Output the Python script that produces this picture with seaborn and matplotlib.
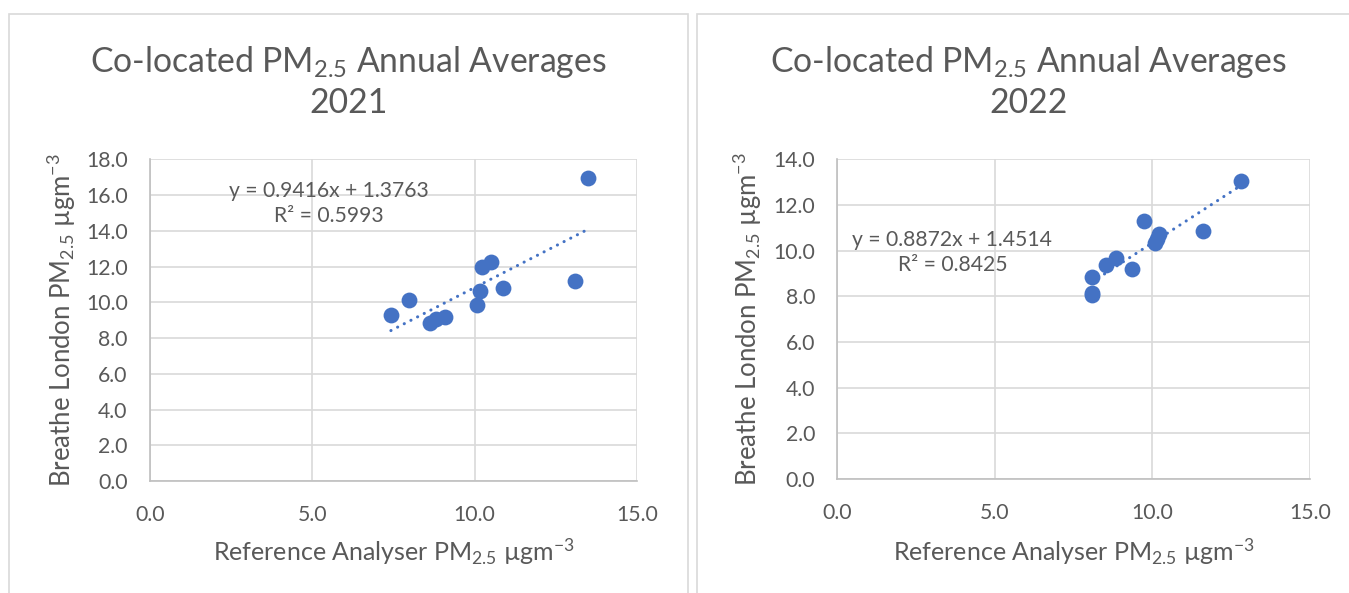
import matplotlib
matplotlib.use("Agg")
import matplotlib.pyplot as plt
import seaborn as sns
import numpy as np
from matplotlib.patches import Rectangle
from matplotlib.ticker import FormatStrFormatter, MultipleLocator

# ---- data ----
ref_2021 = [7.42, 7.99, 8.63, 8.80, 9.08, 10.06, 10.15, 10.23, 10.50, 10.88, 13.08, 13.48]
bl_2021 = [9.27, 10.14, 8.85, 9.08, 9.15, 9.83, 10.65, 12.00, 12.25, 10.82, 11.18, 16.96]
ref_2022 = [8.08, 8.08, 8.08, 8.52, 8.85, 9.35, 9.74, 10.07, 10.15, 10.20, 11.59, 12.80]
bl_2022 = [8.05, 8.15, 8.84, 9.35, 9.67, 9.20, 11.28, 10.33, 10.50, 10.75, 10.88, 13.07]
years = ["2021", "2022"]
equations = ["y = 0.9416x + 1.3763\nR² = 0.5993", "y = 0.8872x + 1.4514\nR² = 0.8425"]
y_max = [18.0, 14.0]
x_ticks = [0.0, 5.0, 10.0, 15.0]

sns.set_theme(style="white")
plt.rcParams["font.family"] = ["Lato", "DejaVu Sans"]
plt.rcParams["mathtext.default"] = "regular"

TXT = "#595959"
GRID = "#D9D9D9"
AXL = "#BFBFBF"
BLUE = "#4472C4"

fig = plt.figure(figsize=(13.49, 5.93), dpi=100)
fig.patch.set_facecolor("white")

W, H = 1349, 593
# panel borders
fig.patches.append(Rectangle((9 / W, -0.05), (688 - 9) / W, 1.05 - 14 / H,
                             transform=fig.transFigure, fill=False, edgecolor=GRID, lw=1.2))
fig.patches.append(Rectangle((697 / W, -0.05), 0.5, 1.05 - 14 / H,
                             transform=fig.transFigure, fill=False, edgecolor=GRID, lw=1.2))

axes_px = [(150, 637, 159.3, 481), (837.3, 1310, 159.3, 479)]
title_cx = [348.5, 1028.5]
ylab_cx = [62, 748]
eq_pos = [(5.50, 15.53), (3.65, 9.91)]
data = [(ref_2021, bl_2021), (ref_2022, bl_2022)]

for i in range(2):
    x0, x1, yt, yb = axes_px[i]
    ax = fig.add_axes([x0 / W, (H - yb) / H, (x1 - x0) / W, (yb - yt) / H])
    xs, ys = data[i]
    sns.regplot(x=xs, y=ys, ax=ax, scatter=False, ci=None, truncate=True,
                line_kws=dict(color=BLUE, lw=2.2, ls=(0, (0.05, 2.4)),
                              dash_capstyle="round", zorder=2))
    sns.scatterplot(x=xs, y=ys, ax=ax, s=130, color=BLUE, edgecolor=BLUE,
                    linewidth=0, zorder=3)
    ax.set_xlim(0, 15)
    ax.set_ylim(0, y_max[i])
    ax.set_xticks(x_ticks)
    ax.yaxis.set_major_locator(MultipleLocator(2))
    ax.xaxis.set_major_formatter(FormatStrFormatter("%.1f"))
    ax.yaxis.set_major_formatter(FormatStrFormatter("%.1f"))
    ax.grid(True, color=GRID, lw=1.2)
    ax.set_axisbelow(True)
    for s in ["top", "right"]:
        ax.spines[s].set_visible(False)
    for s in ["left", "bottom"]:
        ax.spines[s].set_color(AXL)
        ax.spines[s].set_linewidth(1.2)
    ax.tick_params(axis="both", length=0, labelsize=15.3, labelcolor=TXT)
    ax.tick_params(axis="x", pad=17)
    ax.tick_params(axis="y", pad=16)
    ax.set_xlabel("")
    ax.set_ylabel("")
    ex, ey = eq_pos[i]
    ax.text(ex, ey, equations[i], ha="center", va="center", multialignment="center",
            fontsize=15.2, color=TXT, linespacing=1.35, zorder=4)
    # axis titles
    fig.text(((x0 + x1) / 2) / W, 1 - 552 / H, "Reference Analyser PM$_{2.5}$ µgm$^{-3}$",
             ha="center", va="center", fontsize=18, color=TXT)
    fig.text(ylab_cx[i] / W, 1 - ((yt + yb) / 2) / H, "Breathe London PM$_{2.5}$ µgm$^{-3}$",
             ha="center", va="center", rotation=90, fontsize=18.5, color=TXT)
    fig.text(title_cx[i] / W, 1 - 81.5 / H,
             "Co-located PM$_{2.5}$ Annual Averages\n" + years[i],
             ha="center", va="center", multialignment="center", fontsize=24.3,
             color=TXT, linespacing=1.25)

fig.savefig("out.png", dpi=100, facecolor="white")
